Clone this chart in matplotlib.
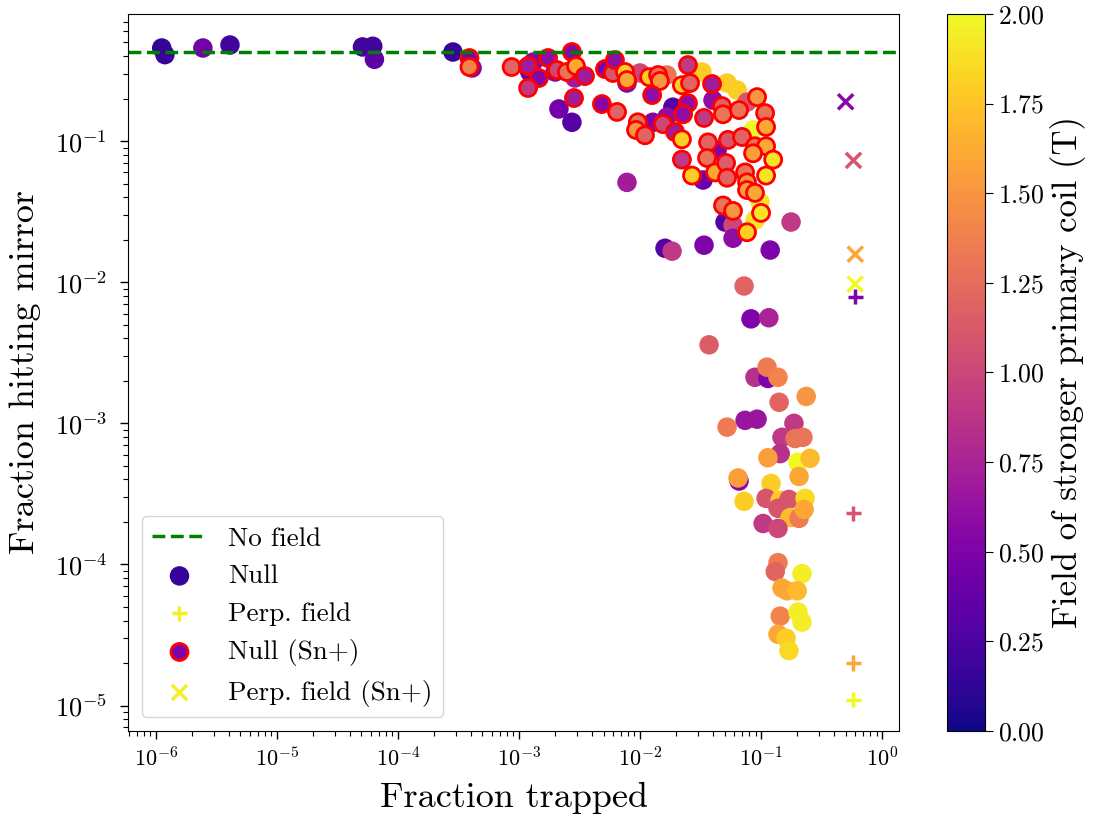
import numpy as np
import matplotlib
matplotlib.use("Agg")
from matplotlib import pyplot as plt

plt.rcParams['font.family'] = 'serif'
plt.rcParams['font.serif'] = ['cmr10']
plt.rcParams['mathtext.fontset'] = 'cm'
plt.rcParams['axes.formatter.use_mathtext'] = True

#--- DATA ---------------------------------------------------------------------+

no_field_mirror = 0.428

# Null configuration, no Sn+
null_trapped = [1.12e-6, 1.19e-6, 2.45e-6, 4.1e-6, 5.1e-5, 6.2e-5, 6.4e-5, 2.85e-4,
                4.1e-4, 1.31e-3, 1.23e-3, 1.99e-3, 2.90e-3, 2.14e-3, 2.74e-3, 7.81e-3,
                1.0e-2, 1.67e-2, 1.87e-2, 3.25e-2, 5.24e-2, 6.34e-2, 4.01e-2, 7.66e-2,
                1.67e-2, 1.28e-2, 8.59e-2, 4.33e-2, 3.32e-2, 9.8e-2, 8.91e-2, 5.04e-2,
                5.87e-2, 5.87e-2, 0.177, 7.81e-3, 1.61e-2, 1.84e-2, 3.38e-2, 0.119,
                7.24e-2, 8.26e-2, 0.116, 3.72e-2, 8.91e-2, 0.114, 0.112, 0.138,
                0.141, 0.236, 7.38e-2, 9.27e-2, 5.24e-2, 0.187, 0.149, 0.191,
                0.222, 0.144, 0.114, 0.202, 0.254, 0.206, 6.58e-2, 6.46e-2,
                0.121, 7.24e-2, 0.110, 0.144, 0.170, 0.231, 0.138, 0.174,
                0.206, 0.227, 0.104, 0.138, 0.138, 0.131, 0.218, 0.149,
                0.164, 0.199, 0.144, 0.202, 0.218, 0.138, 0.161, 0.170]
null_mirror = [0.457, 0.41, 0.457, 0.48, 0.465, 0.47, 0.38, 0.428,
               0.33, 0.363, 0.309, 0.309, 0.28, 0.169, 0.136, 0.258,
               0.304, 0.294, 0.174, 0.309, 0.258, 0.23, 0.195, 0.189,
               0.148, 0.136, 0.12, 0.086, 0.053, 0.037, 0.0275, 0.0267,
               0.0254, 0.0205, 0.0267, 0.051, 0.0174, 0.0166, 0.0183, 0.0169,
               9.4e-3, 5.5e-3, 5.6e-3, 3.6e-3, 2.12e-3, 2.08e-3, 2.5e-3, 2.12e-3,
               1.41e-3, 1.55e-3, 1.05e-3, 1.07e-3, 9.4e-4, 1.0e-3, 7.96e-4, 7.8e-4,
               7.96e-4, 6.1e-4, 5.7e-4, 5.3e-4, 5.65e-4, 4.2e-4, 3.9e-4, 4.1e-4,
               3.75e-4, 2.8e-4, 2.94e-4, 2.85e-4, 2.89e-4, 2.94e-4, 2.5e-4, 2.15e-4,
               2.12e-4, 2.45e-4, 1.95e-4, 1.8e-4, 1.03e-4, 8.9e-5, 8.6e-5, 6.8e-5,
               6.5e-5, 6.5e-5, 4.3e-5, 4.6e-5, 3.9e-5, 3.2e-5, 3.0e-5, 2.45e-5]
null_field = [0.15, 0.15, 0.45, 0.2, 0.2, 0.2, 0.35, 0.15,
              0.5, 0.55, 0.3, 0.5, 0.7, 0.45, 0.3, 0.55,
              1.0, 1.3, 0.3, 1.8, 1.8, 1.8, 0.6, 1.1,
              0.6, 0.5, 2.0, 0.5, 0.4, 1.9, 1.9, 0.3,
              1.0, 0.6, 0.9, 0.7, 0.3, 0.9, 0.5, 0.5,
              1.2, 0.5, 0.75, 1.15, 0.85, 0.5, 1.35, 1.4,
              1.2, 1.5, 0.65, 0.65, 1.35, 0.9, 0.9, 1.3,
              1.3, 0.85, 1.55, 2.0, 1.7, 1.6, 0.55, 1.55,
              1.8, 1.8, 1.1, 1.8, 1.1, 1.85, 1.1, 1.7,
              1.35, 1.6, 0.9, 1.0, 1.35, 1.2, 1.95, 1.6,
              1.6, 1.7, 1.4, 1.95, 1.95, 1.6, 1.8, 1.85]

# perpendicular field, no Sn+
perp_trapped = [0.58, 0.58, 0.58, 0.60]
perp_mirror = [1.1e-5, 2.0e-5, 2.3e-4, 7.9e-3]
perp_field = [2.0, 1.6, 1.1, 0.5]

# Null configuration with Sn+
sn_trapped = [3.9e-4, 3.9e-4, 8.7e-4, 1.19e-3, 1.74e-3, 1.46e-3, 1.19e-3, 2.06e-3,
              2.74e-3, 2.49e-3, 2.96e-3, 3.51e-3, 2.85e-3, 4.85e-3, 6.46e-3, 5.14e-3,
              5.98e-3, 6.21e-3, 7.52e-3, 7.81e-3, 1.19e-2, 1.41e-2, 1.46e-2, 1.26e-2,
              2.49e-2, 2.22e-2, 2.59e-2, 3.94e-2, 2.49e-2, 2.27e-2, 9.6e-3, 9.27e-3,
              1.10e-2, 1.55e-2, 1.95e-2, 2.22e-2, 2.22e-2, 2.69e-2, 3.38e-2, 4.76e-2,
              4.85e-2, 6.58e-2, 9.27e-2, 0.108, 0.110, 3.65e-2, 5.33e-2, 6.96e-2,
              8.91e-2, 0.110, 0.126, 0.110, 3.58e-2, 4.17e-2, 5.14e-2, 5.24e-2,
              7.38e-2, 7.66e-2, 7.66e-2, 8.91e-2, 0.100, 7.66e-2, 4.85e-2, 5.87e-2,
              8.59e-2]
sn_mirror = [0.388, 0.335, 0.335, 0.34, 0.388, 0.28, 0.238, 0.319,
             0.428, 0.309, 0.34, 0.289, 0.202, 0.183, 0.161, 0.324,
             0.304, 0.375, 0.309, 0.271, 0.284, 0.294, 0.267, 0.212,
             0.346, 0.249, 0.258, 0.254, 0.186, 0.155, 0.136, 0.12,
             0.11, 0.132, 0.116, 0.103, 0.074, 0.057, 0.146, 0.177,
             0.155, 0.166, 0.205, 0.158, 0.126, 0.098, 0.102, 0.107,
             0.092, 0.092, 0.074, 0.057, 0.076, 0.060, 0.070, 0.055,
             0.060, 0.051, 0.045, 0.043, 0.031, 0.0226, 0.035, 0.032,
             0.082]
sn_field = [0.5, 1.4, 1.2, 0.7, 0.6, 0.55, 0.9, 1.0,
            0.55, 1.3, 1.6, 0.7, 0.7, 0.55, 1.2, 0.5,
            1.1, 0.6, 1.8, 1.6, 1.8, 1.3, 1.5, 0.6,
            0.9, 1.8, 1.2, 0.7, 0.6, 0.6, 1.3, 1.5,
            1.2, 1.0, 0.7, 1.8, 0.9, 1.8, 0.9, 1.2,
            1.3, 1.3, 1.5, 1.3, 1.6, 1.2, 1.1, 1.2,
            1.3, 1.6, 1.9, 1.9, 1.3, 1.6, 1.15, 1.2,
            1.3, 1.5, 1.55, 1.6, 1.9, 1.8, 1.3, 1.5,
            1.55]

# perpendicular field with Sn+
perp_sn_trapped = [0.60, 0.60, 0.58, 0.50]
perp_sn_mirror = [9.7e-3, 1.58e-2, 7.3e-2, 0.19]
perp_sn_field = [2.0, 1.6, 1.1, 0.55]

#--- PLOT ---------------------------------------------------------------------+

cmap = 'plasma'
fig = plt.figure(figsize=(11, 8.23), dpi=100)
ax = fig.add_axes([0.1164, 0.1118, 0.7009, 0.8712])
cax = fig.add_axes([0.861, 0.1118, 0.0345, 0.8712])

ax.axhline(no_field_mirror, color='g', ls='--', lw=2.5, label='No field')
sc = ax.scatter(null_trapped, null_mirror, c=null_field, cmap=cmap, vmin=0, vmax=2,
                s=170, label='Null')
ax.scatter(perp_trapped, perp_mirror, c=perp_field, cmap=cmap, vmin=0, vmax=2,
           s=120, marker='+', linewidths=2.5, label='Perp. field')
ax.scatter(sn_trapped, sn_mirror, c=sn_field, cmap=cmap, vmin=0, vmax=2,
           s=150, edgecolors='red', linewidths=2, label='Null (Sn+)')
ax.scatter(perp_sn_trapped, perp_sn_mirror, c=perp_sn_field, cmap=cmap, vmin=0, vmax=2,
           s=120, marker='x', linewidths=2.5, label='Perp. field (Sn+)')

ax.set_xscale('log')
ax.set_yscale('log')
ax.set_xlim(5.9e-7, 1.38)
ax.set_ylim(6.6e-6, 0.796)
ax.set_xlabel('Fraction trapped', fontsize=26, labelpad=8)
ax.set_ylabel('Fraction hitting mirror', fontsize=26, labelpad=10)
ax.tick_params(which='major', length=6, width=1)
ax.tick_params(which='minor', length=3.5, width=0.8)
ax.tick_params(axis='x', labelsize=16, pad=5)
ax.tick_params(axis='y', labelsize=19, pad=9)

leg = ax.legend(loc='lower left', fontsize=19.5)
lh = leg.legend_handles
lh[1].set_facecolor(plt.get_cmap(cmap)(0.07))
lh[2].set_color(plt.get_cmap(cmap)(0.98))
lh[3].set_facecolor(plt.get_cmap(cmap)(0.07))
lh[4].set_color(plt.get_cmap(cmap)(0.98))

cb = fig.colorbar(sc, cax=cax)
cb.set_label('Field of stronger primary coil (T)', fontsize=25)
cb.ax.tick_params(labelsize=18.5, length=6)

plt.savefig('out.png', dpi=100)
